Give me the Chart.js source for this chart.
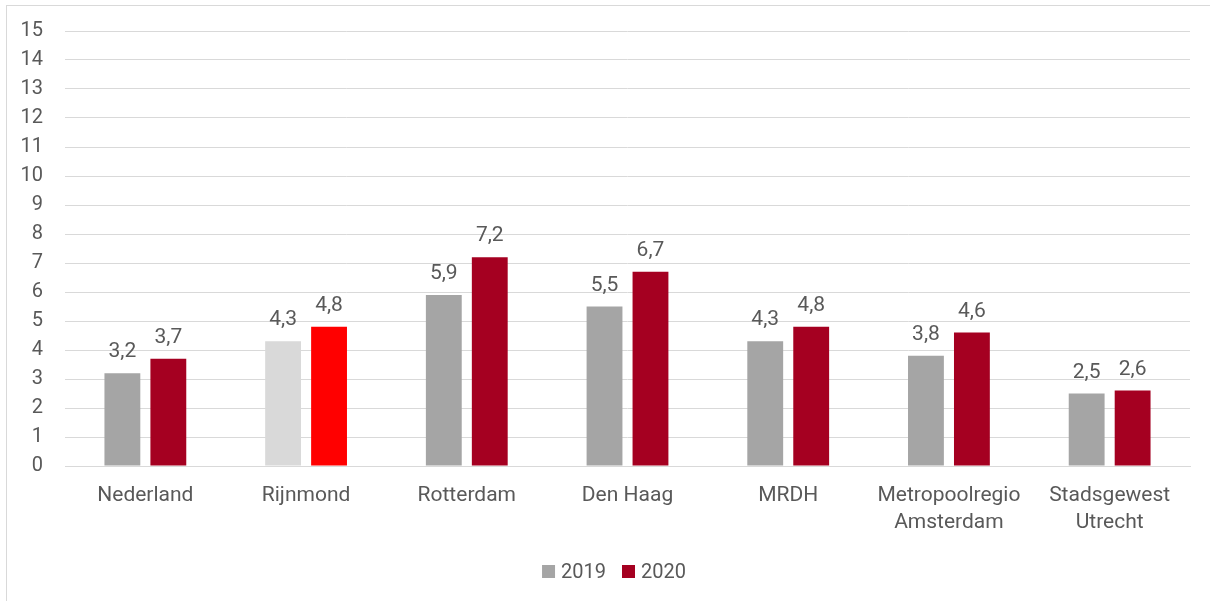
<!DOCTYPE html>
<html>
<head>
<meta charset="utf-8">
<script src="https://cdn.jsdelivr.net/npm/chart.js@4/dist/chart.umd.min.js"></script>
<style>
  html, body { margin: 0; padding: 0; background: #fff; }
  #wrap { position: relative; width: 1210px; height: 601px; }
  #frame { position: absolute; left: 6px; top: 5px; width: 1216px; height: 610px; border: 1px solid #D9D9D9; pointer-events: none; box-sizing: border-box; }
  canvas { position: absolute; left: 0; top: 0; }
</style>
</head>
<body>
<div id="wrap">
  <canvas id="c" width="1210" height="601"></canvas>
  <div id="frame"></div>
</div>
<script>
const categories = ["Nederland", "Rijnmond", "Rotterdam", "Den Haag", "MRDH", ["Metropoolregio", "Amsterdam"], ["Stadsgewest", "Utrecht"]];
const seriesNames = ["2019", "2020"];
const values2019 = [3.2, 4.3, 5.9, 5.5, 4.3, 3.8, 2.5];
const values2020 = [3.7, 4.8, 7.2, 6.7, 4.8, 4.6, 2.6];
const colors2019 = ["#A5A5A5", "#D9D9D9", "#A5A5A5", "#A5A5A5", "#A5A5A5", "#A5A5A5", "#A5A5A5"];
const colors2020 = ["#A50021", "#FF0000", "#A50021", "#A50021", "#A50021", "#A50021", "#A50021"];
const yMin = 0, yMax = 15, yStep = 1;

const FONT = "Roboto, 'Liberation Sans', sans-serif";
const TEXT = "#595959";

const valueLabels = {
  id: "valueLabels",
  afterDatasetsDraw(chart) {
    const ctx = chart.ctx;
    ctx.save();
    ctx.font = "21px " + FONT;
    ctx.fillStyle = TEXT;
    ctx.textAlign = "center";
    ctx.textBaseline = "alphabetic";
    chart.data.datasets.forEach((ds, i) => {
      chart.getDatasetMeta(i).data.forEach((bar, j) => {
        const v = ds.data[j];
        ctx.fillText(v.toFixed(1).replace(".", ","), bar.x, bar.y - 16);
      });
    });
    ctx.restore();
  }
};

// Legend drawn manually for Excel-like spacing (box, small gap, text)
const customLegend = {
  id: "customLegend",
  afterDraw(chart) {
    const ctx = chart.ctx;
    const box = 13, gap = 6, itemGap = 16, baseline = 578;
    ctx.save();
    ctx.font = "20px " + FONT;
    const items = chart.data.datasets.map(ds => ({
      text: ds.label, color: ds.backgroundColor[0], w: ctx.measureText(ds.label).width
    }));
    let total = 0;
    items.forEach((it, i) => { total += box + gap + it.w + (i ? itemGap : 0); });
    const center = 614;
    let x = center - total / 2;
    ctx.textBaseline = "alphabetic";
    ctx.textAlign = "left";
    items.forEach(it => {
      ctx.fillStyle = it.color;
      ctx.fillRect(x, baseline - box, box, box);
      x += box + gap;
      ctx.fillStyle = TEXT;
      ctx.fillText(it.text, x, baseline);
      x += it.w + itemGap;
    });
    ctx.restore();
  }
};

new Chart(document.getElementById("c"), {
  type: "bar",
  data: {
    labels: categories,
    datasets: [
      { label: seriesNames[0], data: values2019, backgroundColor: colors2019, barPercentage: 0.78, categoryPercentage: 0.572 },
      { label: seriesNames[1], data: values2020, backgroundColor: colors2020, barPercentage: 0.78, categoryPercentage: 0.572 }
    ]
  },
  options: {
    responsive: false,
    animation: false,
    layout: { padding: { left: 0, right: 20, top: 31, bottom: 48 } },
    plugins: {
      legend: { display: false },
      tooltip: { enabled: false }
    },
    scales: {
      x: {
        grid: { display: false, drawTicks: false },
        border: { display: true, color: "#D9D9D9", width: 1 },
        ticks: { font: { size: 21, family: FONT, lineHeight: 1.3 }, color: TEXT, padding: 16, maxRotation: 0, autoSkip: false },
        afterFit(scale) { scale.height = 87; scale.paddingLeft = 0; scale.paddingRight = 0; }
      },
      y: {
        min: yMin, max: yMax,
        grid: { color: "#D9D9D9", lineWidth: 1, drawTicks: false },
        border: { display: false },
        ticks: { stepSize: yStep, font: { size: 20, family: FONT }, color: TEXT, padding: 22 },
        afterFit(scale) { scale.width = 65; scale.paddingTop = 0; scale.paddingBottom = 0; }
      }
    }
  },
  plugins: [valueLabels, customLegend]
});
</script>
</body>
</html>
